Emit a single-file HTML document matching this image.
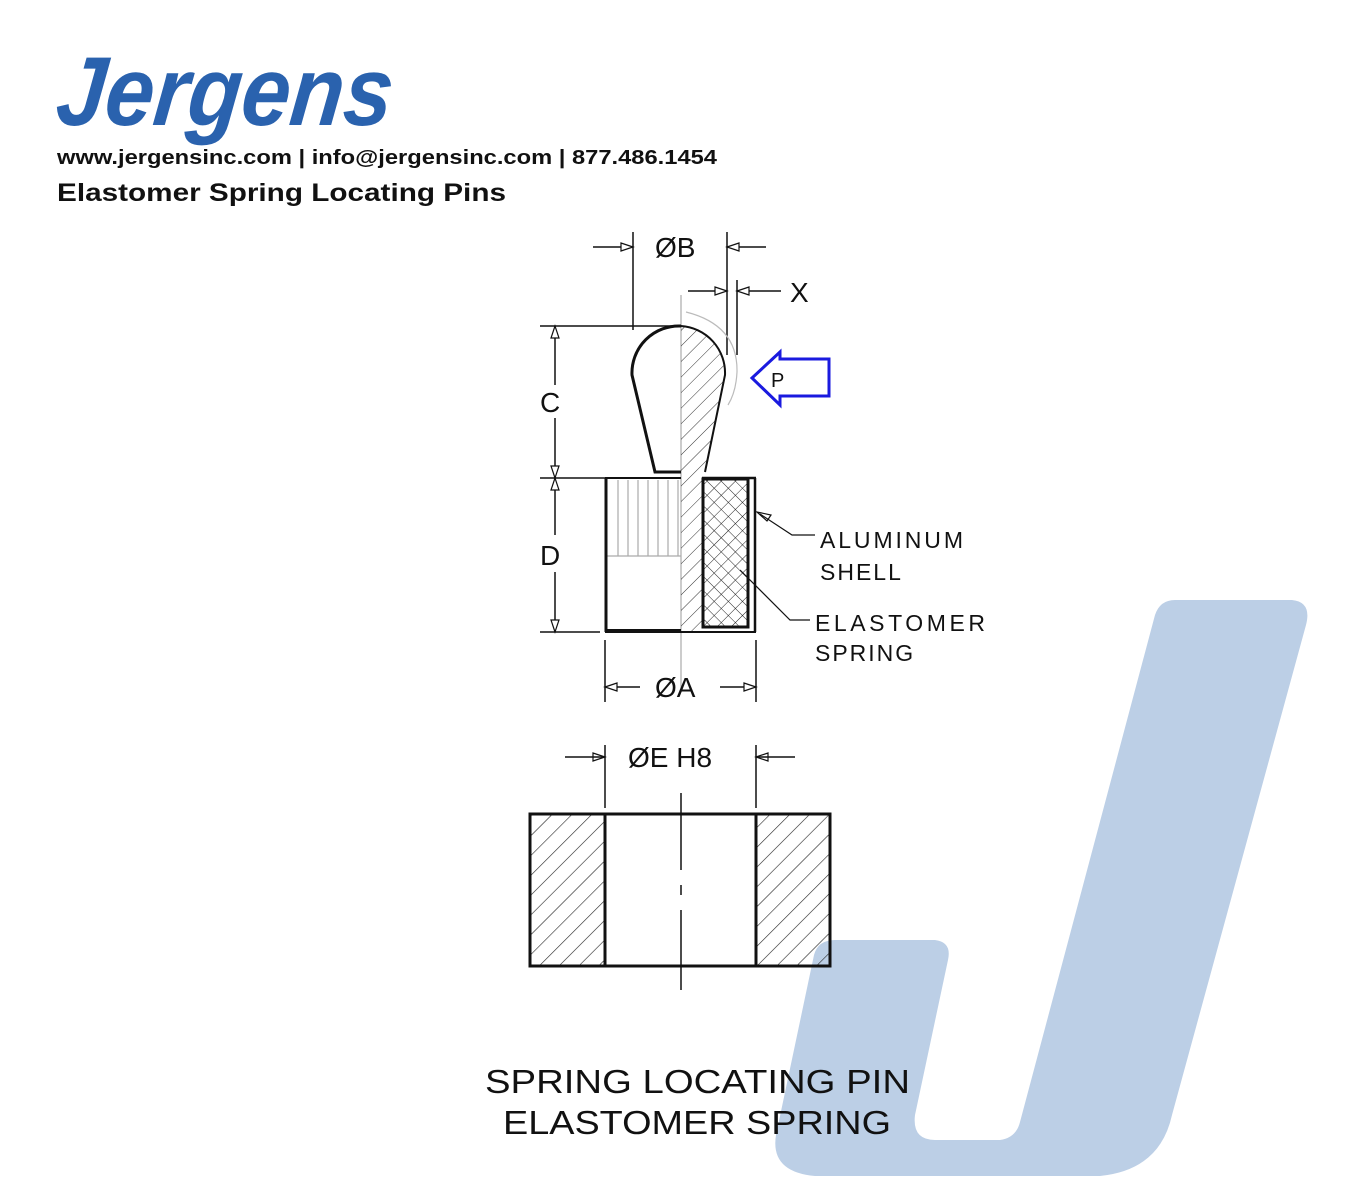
<!DOCTYPE html>
<html><head><meta charset="utf-8"><style>
html,body{margin:0;padding:0;background:#fff;}
body{width:1360px;height:1200px;overflow:hidden;position:relative;font-family:"Liberation Sans",sans-serif;}
</style></head><body>
<svg width="1360" height="1200" viewBox="0 0 1360 1200" xmlns="http://www.w3.org/2000/svg" style="position:absolute;left:0;top:0">
<defs>
<pattern id="h45" patternUnits="userSpaceOnUse" width="14" height="14" patternTransform="rotate(45)">
<line x1="0" y1="0" x2="0" y2="14" stroke="#222" stroke-width="1.2"/></pattern>
<pattern id="h45b" patternUnits="userSpaceOnUse" width="11" height="11" patternTransform="rotate(45)">
<line x1="0" y1="0" x2="0" y2="11" stroke="#333" stroke-width="1"/></pattern>
<pattern id="hx" patternUnits="userSpaceOnUse" width="10" height="10" patternTransform="rotate(45)">
<line x1="0" y1="0" x2="0" y2="10" stroke="#222" stroke-width="1"/><line x1="0" y1="0" x2="10" y2="0" stroke="#222" stroke-width="1"/></pattern>
<clipPath id="pinR"><path d="M681,326 A47,47 0 0 1 725,375 L705,472 L702,478 L702,632 L681,632 Z"/></clipPath>
</defs>

<path fill="#bccfe6" d="M1175,600 L1292,600 Q1312,602 1306,625 L1172,1115 Q1160,1170 1100,1176 L815,1176 Q770,1172 776,1135 L814,955 Q818,940 835,940 L935,940 Q952,942 948,960 L915,1115 Q912,1140 935,1140 L1000,1140 Q1016,1138 1020,1122 L1155,615 Q1160,600 1175,600 Z"/>

<text x="57" y="125" font-family="Liberation Sans" font-weight="bold" font-style="italic" font-size="98" fill="#2a62ae" textLength="336" lengthAdjust="spacingAndGlyphs" transform="skewX(-6) translate(10,0)">Jergens</text>
<text x="57" y="164" font-family="Liberation Sans" font-weight="bold" font-size="20" fill="#111" textLength="660" lengthAdjust="spacingAndGlyphs">www.jergensinc.com | info@jergensinc.com | 877.486.1454</text>
<text x="57" y="201" font-family="Liberation Sans" font-weight="bold" font-size="25" fill="#111" textLength="449" lengthAdjust="spacingAndGlyphs">Elastomer Spring Locating Pins</text>

<g stroke="#111" fill="none" stroke-width="1.5">
<line x1="681" y1="295" x2="681" y2="690" stroke="#aaa" stroke-width="1.2"/>
<line x1="633" y1="232" x2="633" y2="330"/>
<line x1="727" y1="232" x2="727" y2="355"/>
<line x1="593" y1="247" x2="633" y2="247"/>
<line x1="727" y1="247" x2="766" y2="247"/>
<line x1="737" y1="280" x2="737" y2="355"/>
<line x1="688" y1="291" x2="727" y2="291"/>
<line x1="737" y1="291" x2="781" y2="291"/>
<line x1="540" y1="326" x2="681" y2="326"/>
<line x1="540" y1="478" x2="605" y2="478"/>
<line x1="540" y1="632" x2="600" y2="632"/>
<line x1="555" y1="326" x2="555" y2="385"/>
<line x1="555" y1="418" x2="555" y2="535"/>
<line x1="555" y1="572" x2="555" y2="632"/>
<line x1="605" y1="640" x2="605" y2="702"/>
<line x1="756" y1="640" x2="756" y2="702"/>
<line x1="605" y1="687" x2="640" y2="687"/>
<line x1="720" y1="687" x2="756" y2="687"/>
</g>
<g fill="#fff" stroke="#111" stroke-width="1.2">
<path d="M633,247 l-12,-4 v8 z"/><path d="M727,247 l12,-4 v8 z"/>
<path d="M727,291 l-12,-4 v8 z"/><path d="M737,291 l12,-4 v8 z"/>
<path d="M555,326 l-4,12 h8 z"/><path d="M555,478 l-4,-12 h8 z"/>
<path d="M555,478 l-4,12 h8 z"/><path d="M555,632 l-4,-12 h8 z"/>
<path d="M605,687 l12,-4 v8 z"/><path d="M756,687 l-12,-4 v8 z"/>
<path d="M605,757 l-12,-4 v8 z"/><path d="M756,757 l12,-4 v8 z"/>
<path d="M757,512 l10,9 l4,-6 z"/>
</g>

<rect x="681" y="320" width="50" height="315" fill="url(#h45b)" clip-path="url(#pinR)"/>
<path d="M686,312 Q738,325 737,372 Q736,392 728,405" fill="none" stroke="#bbb" stroke-width="1.2"/>
<path d="M681,326 A47,47 0 0 0 632,375 L655,472 L681,472" fill="none" stroke="#111" stroke-width="3"/>
<path d="M681,326 A47,47 0 0 1 725,375 L705,472" fill="none" stroke="#111" stroke-width="2"/>
<g stroke="#aaa" stroke-width="1.2">
<line x1="618" y1="480" x2="618" y2="556"/><line x1="628" y1="480" x2="628" y2="556"/><line x1="638" y1="480" x2="638" y2="556"/><line x1="648" y1="480" x2="648" y2="556"/><line x1="658" y1="480" x2="658" y2="556"/><line x1="668" y1="480" x2="668" y2="556"/><line x1="678" y1="480" x2="678" y2="556"/>
<line x1="607" y1="556" x2="681" y2="556"/>
</g>
<g stroke="#111" fill="none">
<line x1="605" y1="478" x2="681" y2="478" stroke-width="2"/>
<line x1="606" y1="478" x2="606" y2="632" stroke-width="3"/>
<line x1="605" y1="631" x2="681" y2="631" stroke-width="4"/>
<line x1="681" y1="632" x2="756" y2="632" stroke-width="2"/>
<line x1="702" y1="478" x2="756" y2="478" stroke-width="2.5"/>
<line x1="755" y1="478" x2="755" y2="632" stroke-width="2.5"/>
</g>
<rect x="703" y="479" width="45" height="148" fill="url(#hx)" stroke="#111" stroke-width="3"/>
<path d="M760,514 L792,535 L815,535" fill="none" stroke="#111" stroke-width="1.2"/>
<path d="M740,570 L790,620 L810,620" fill="none" stroke="#111" stroke-width="1.2"/>
<path d="M752,378 L780,352 L780,359 L829,359 L829,396 L780,396 L780,405 Z" fill="none" stroke="#1a1adf" stroke-width="3"/>
<text x="771" y="387" font-size="20" fill="#111">P</text>

<g font-family="Liberation Sans" fill="#111">
<text x="655" y="257" font-size="28">ØB</text>
<text x="790" y="302" font-size="28">X</text>
<text x="540" y="412" font-size="28">C</text>
<text x="540" y="565" font-size="28">D</text>
<text x="655" y="697" font-size="28">ØA</text>
<text x="628" y="767" font-size="28">ØE H8</text>
<text x="820" y="548" font-size="23" letter-spacing="2" textLength="145">ALUMINUM</text>
<text x="820" y="580" font-size="23" letter-spacing="2">SHELL</text>
<text x="815" y="631" font-size="23" letter-spacing="2" textLength="172">ELASTOMER</text>
<text x="815" y="661" font-size="23" letter-spacing="2">SPRING</text>
<text x="485" y="1093" font-size="33" textLength="425" lengthAdjust="spacingAndGlyphs">SPRING LOCATING PIN</text>
<text x="503" y="1134" font-size="33" textLength="388" lengthAdjust="spacingAndGlyphs">ELASTOMER SPRING</text>
</g>

<g stroke="#111" fill="none" stroke-width="1.5">
<line x1="605" y1="745" x2="605" y2="808"/>
<line x1="756" y1="745" x2="756" y2="808"/>
<line x1="565" y1="757" x2="605" y2="757"/>
<line x1="756" y1="757" x2="795" y2="757"/>
</g>
<rect x="530" y="814" width="75" height="152" fill="url(#h45)"/>
<rect x="756" y="814" width="74" height="152" fill="url(#h45)"/>
<g stroke="#111" fill="none" stroke-width="3">
<rect x="530" y="814" width="300" height="152"/>
<line x1="605" y1="814" x2="605" y2="966"/>
<line x1="756" y1="814" x2="756" y2="966"/>
</g>
<path d="M681,793 V870 M681,885 V895 M681,910 V990" stroke="#111" stroke-width="1.5"/>
</svg>
</body></html>
